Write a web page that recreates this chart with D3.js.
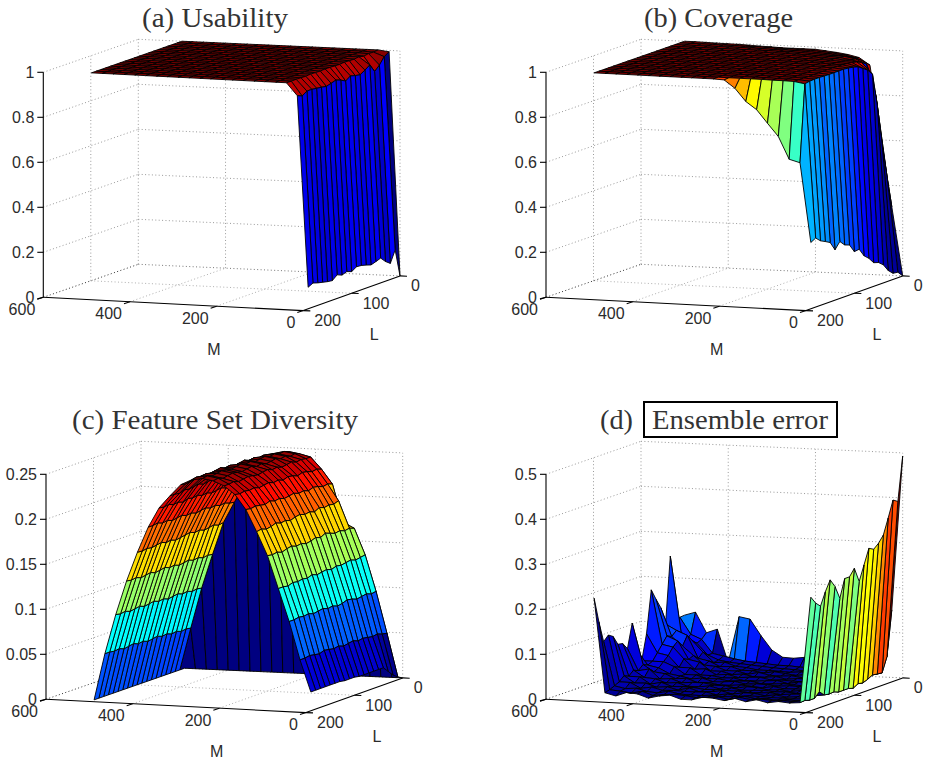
<!DOCTYPE html>
<html><head><meta charset="utf-8">
<script src="https://cdn.jsdelivr.net/npm/d3@7"></script>
<style>html,body{margin:0;background:#fff}svg{display:block}</style></head>
<body><svg id="c" width="927" height="759"></svg>
<script>
const M=[0,25,50,75,100,125,150,175,200,225,250,275,300,325,350,375,400,425,450,475,500];
const L=[0,10,20,30,40,50,60,70,80,90,100,110,120,130,140,150,160,170,180,190];
const mTicks=[600,400,200,0], lTicks=[200,100,0];
const usabilityTicks=[0,0.2,0.4,0.6,0.8,1], coverageTicks=[0,0.2,0.4,0.6,0.8,1];
const diversityTicks=[0,0.05,0.1,0.15,0.2,0.25], errorTicks=[0,0.1,0.2,0.3,0.4,0.5];
// every table: one row per M, one value per L
const one=[1,1,1,1,1,1,1,1,1,1,1,1,1,1,1,1,1,1,1,1];
const usability=[
[0,.123,.071,.087,.11,.102,.095,.102,.108,.11,.096,.104,.096,.105,.087,.09,.095,.10,.107,.096],
[.994,.98,.95,.929,.966,.951,.938,.942,.948,.933,.945,.953,.946,.94,.944,.947,.95,.95,.936,.945],
[1,.998,.999,.995,1,.997,.998,.999,.997,.998,.999,1,.998,.999,1,.998,.999,1,.999,1],
one,one,one,one,one,one,one,one,one,one,one,one,one,one,one,one,one,one];
const coverage=[
[0,.024,.027,.047,.08,.098,.105,.132,.151,.188,.185,.222,.23,.253,.224,.264,.276,.287,.307,.295],
[.305,.45,.6,.78,.925,.951,.966,.981,.987,.991,.993,.993,.993,.993,.994,.995,.995,.994,.99,.647],
[.6,.8,.9,.96,.975,.985,.99,.993,.995,.996,.997,.997,.997,.997,.997,.997,.998,.998,.998,.66],
[.93,.95,.97,.98,.985,.99,.993,.995,.996,.997,.998,.998,.998,.998,.998,.998,.999,.999,.999,.759],
[.962,.97,.98,.99,.992,.995,.996,.997,.998,.998,.999,.999,.999,.999,.999,.999,.999,.999,.999,.815],
[.973,.98,.985,.99,.995,.996,.997,.998,.999,.999,.999,.999,1,1,1,1,1,1,1,.873],
[.98,.985,.99,.994,.996,.998,.998,.999,.999,1,1,1,1,1,1,1,1,1,1,.907],
[.985,.99,.993,.996,.998,.999,.999,1,1,1,1,1,1,1,1,1,1,1,1,.963],
[.99,.993,.996,.998,.999,1,1,1,1,1,1,1,1,1,1,1,1,1,1,.998],
[.99,.994,.997,.999,1,1,1,1,1,1,1,1,1,1,1,1,1,1,1,1],
[.99,.995,.998,.999,1,1,1,1,1,1,1,1,1,1,1,1,1,1,1,1],
[.99,.996,.998,1,1,1,1,1,1,1,1,1,1,1,1,1,1,1,1,1],
[.992,.997,.999,1,1,1,1,1,1,1,1,1,1,1,1,1,1,1,1,1],
[.993,.998,1,1,1,1,1,1,1,1,1,1,1,1,1,1,1,1,1,1],
[.995,.998,1,1,1,1,1,1,1,1,1,1,1,1,1,1,1,1,1,1],
[.997,.999,1,1,1,1,1,1,1,1,1,1,1,1,1,1,1,1,1,1],
[.997,.999,1,1,1,1,1,1,1,1,1,1,1,1,1,1,1,1,1,1],
[.998,1,1,1,1,1,1,1,1,1,1,1,1,1,1,1,1,1,1,1],
[.999,1,1,1,1,1,1,1,1,1,1,1,1,1,1,1,1,1,1,1],
one,one];
// colour of the strips that fall off the far L edge of the coverage surface (by M row)
const coverageEdgeColour=[.3,.43,.5,.54,.585,.63,.69,.75,.82];
// colours read directly for the few cells near the L=0, low-M corner: [M index, L index, colour]
const coverageCornerColour=[[1,0,.1],[1,1,.1],[1,2,.1],[1,3,.1],[2,0,.92],[2,1,.92],[2,2,.92],[2,3,.92]];
const diversity=[
[0,.003,.007,.013,.019,.019,.019,.019,.019,.019,.020,.020,.020,.021,.021,.021,.021,.021,.021,.021],
[0,.051,.052,.054,.053,.054,.055,.054,.056,.055,.054,.056,.055,.056,.057,.055,.056,.057,.056,.056],
[0,.097,.096,.098,.097,.096,.098,.099,.097,.096,.098,.097,.099,.098,.097,.099,.098,.099,.098,.098],
[0,.137,.136,.135,.137,.136,.135,.136,.134,.136,.135,.134,.136,.134,.135,.134,.135,.133,.134,.134],
[0,.166,.168,.167,.169,.168,.170,.172,.169,.171,.169,.168,.170,.169,.171,.170,.168,.170,.169,.170],
[0,.172,.198,.196,.197,.196,.198,.195,.197,.196,.198,.197,.195,.197,.196,.198,.196,.195,.197,.196],
[0,.214,.216,.215,.217,.218,.216,.218,.217,.219,.218,.217,.219,.218,.220,.218,.219,.220,.219,.220],
[0,.230,.232,.231,.233,.234,.232,.234,.235,.233,.235,.234,.236,.235,.234,.236,.235,.236,.235,.236],
[0,.243,.243,.244,.243,.245,.244,.243,.245,.244,.246,.245,.244,.245,.246,.245,.244,.246,.245,.245],
[0,.246,.248,.247,.249,.248,.250,.249,.248,.250,.249,.251,.250,.249,.250,.251,.250,.249,.251,.250],
[0,.248,.250,.249,.251,.250,.252,.251,.250,.252,.251,.253,.252,.251,.252,.253,.252,.251,.253,.252],
[0,.2455,.247,.248,.249,.248,.250,.249,.251,.250,.249,.251,.250,.252,.251,.250,.251,.250,.251,.250],
[0,.240,.241,.240,.242,.241,.243,.242,.241,.243,.242,.244,.243,.242,.244,.243,.245,.244,.243,.244],
[0,.230,.229,.231,.230,.232,.231,.230,.232,.231,.233,.232,.231,.233,.232,.231,.232,.230,.231,.231],
[0,.212,.213,.212,.214,.213,.215,.214,.213,.215,.214,.216,.215,.216,.214,.216,.215,.217,.216,.217],
[0,.189,.190,.192,.191,.193,.192,.194,.193,.192,.194,.193,.195,.194,.193,.195,.194,.196,.195,.195],
[0,.166,.165,.167,.166,.165,.167,.166,.168,.167,.166,.165,.167,.166,.168,.167,.166,.167,.166,.1665],
[0,.130,.131,.130,.132,.131,.133,.132,.131,.133,.132,.134,.133,.132,.134,.133,.132,.134,.133,.134],
[0,.092,.093,.092,.094,.093,.095,.094,.093,.095,.094,.096,.095,.094,.096,.095,.094,.096,.095,.096],
[0,.047,.048,.047,.049,.048,.050,.049,.051,.050,.049,.051,.050,.052,.051,.050,.052,.051,.052,.052],
[0,0,0,0,0,0,0,0,0,0,0,0,0,0,0,0,0,0,0,0]];
const ensembleError=[
[.493,.396,.403,.367,.333,.3185,.309,.315,.282,.249,.282,.267,.267,.227,.257,.2756,.253,.225,.2356,.2526],
[.15,.05,.018,.019,.021,.015,.011,.013,.0067,.01,.01,.01,.014,.013,.015,.026,.015,.015,.018,.017],
[.03,.018,.012,.014,.011,.013,.009,.012,.01,.012,.009,.013,.011,.014,.012,.01,.013,.012,.014,.015],
[.06,.016,.012,.01,.013,.011,.014,.01,.012,.009,.013,.011,.012,.01,.014,.012,.011,.013,.015,.017],
[.05,.014,.011,.013,.01,.012,.009,.014,.011,.013,.01,.012,.014,.011,.013,.01,.012,.011,.014,.013],
[.06,.016,.014,.012,.011,.013,.01,.012,.014,.011,.013,.012,.01,.013,.011,.014,.012,.013,.016,.0185],
[.07,.018,.014,.016,.012,.01,.013,.011,.015,.012,.014,.011,.013,.012,.014,.011,.013,.012,.014,.013],
[.05,.016,.015,.013,.015,.012,.014,.012,.01,.014,.012,.015,.011,.014,.012,.015,.013,.016,.017,.019],
[.035,.018,.014,.016,.012,.015,.011,.013,.016,.012,.014,.011,.015,.013,.012,.015,.011,.014,.012,.013],
[.036,.018,.016,.014,.015,.013,.016,.012,.014,.011,.015,.013,.016,.012,.014,.011,.015,.013,.016,.017],
[.033,.02,.017,.015,.018,.014,.013,.017,.012,.016,.013,.015,.012,.016,.014,.017,.012,.015,.014,.018],
[.034,.02,.018,.016,.014,.019,.013,.016,.012,.015,.018,.013,.016,.012,.015,.014,.017,.013,.012,.011],
[.049,.022,.02,.016,.018,.014,.018,.014,.017,.014,.016,.013,.016,.018,.014,.012,.016,.013,.015,.011],
[.08,.024,.022,.02,.018,.02,.016,.02,.016,.018,.015,.017,.02,.015,.017,.02,.016,.014,.017,.019],
[.1156,.026,.024,.022,.025,.02,.022,.018,.02,.017,.022,.016,.02,.015,.018,.014,.017,.019,.015,.016],
[.12,.03,.026,.03,.024,.028,.022,.03,.02,.024,.019,.024,.018,.022,.017,.02,.016,.014,.012,.01],
[.017,.035,.03,.028,.035,.03,.04,.028,.035,.024,.024,.022,.026,.02,.025,.018,.022,.016,.02,.018],
[.09,.04,.04,.05,.04,.05,.045,.05,.035,.04,.028,.032,.024,.028,.02,.026,.018,.022,.015,.02],
[.081,.07,.065,.075,.09,.07,.085,.075,.06,.05,.04,.035,.045,.03,.035,.025,.03,.02,.018,.011],
[.1257,.08,.07,.09,.1,.09,.095,.08,.065,.05,.045,.05,.04,.045,.035,.04,.03,.025,.02,.017],
[.118,.117,.105,.26,.113,.153,.1755,.2,.106,.05,.076,.141,.088,.103,.105,.126,.133,.122,.17,.226]];

const jet=d3.scaleLinear().domain([0,.125,.375,.625,.875,1])
  .range(["#000080","#0000ff","#00ffff","#ffff00","#ff0000","#800000"]).interpolate(d3.interpolateRgb).clamp(true);
const svg=d3.select("#c");
const sans="'Liberation Sans',Arial,sans-serif", serif="'Liberation Serif',serif";
const txt="#2b2b2b";

function panel(o){
  const g=svg.append("g").attr("transform",`translate(${o.x},${o.y})`);
  const zTop=d3.max(o.zTicks);
  const mx=d3.scaleLinear([0,600],[260,0]), my=d3.scaleLinear([0,600],[13.3,0]);
  const lx=d3.scaleLinear([0,200],[96.7,0]), ly=d3.scaleLinear([0,200],[-34.7,0]);
  const zy=d3.scaleLinear([0,zTop],[0,-225]);
  // slight perspective: the far corner of the box sits 1.7px left of and below the parallel projection
  const far=(m,l)=>(m/600)*(1-l/200)*1.7;
  const P=(m,l,z)=>[mx(m)+lx(l)-far(m,l),my(m)+ly(l)+zy(z)+far(m,l)];
  const seg=(a,b,col)=>g.append("line").attr("x1",a[0]).attr("y1",a[1]).attr("x2",b[0]).attr("y2",b[1])
     .attr("stroke",col).attr("stroke-width",1).attr("stroke-dasharray","1 2.4");
  // dotted box grid
  o.zTicks.forEach(z=>{
    const dark=z===0;
    seg(P(600,200,z),P(600,0,z),dark?"#333":"#9a9a9a");
    seg(P(600,0,z),P(0,0,z),dark?"#777":"#9a9a9a");
  });
  [[600,100],[600,0],[400,0],[200,0],[0,0]].forEach(d=>seg(P(d[0],d[1],0),P(d[0],d[1],zTop),"#9a9a9a"));
  [400,200].forEach(m=>seg(P(m,200,0),P(m,0,0),"#b0b0b0"));
  seg(P(600,100,0),P(0,100,0),"#b0b0b0");
  // axes
  const solid=(a,b,w)=>g.append("line").attr("x1",a[0]).attr("y1",a[1]).attr("x2",b[0]).attr("y2",b[1]).attr("stroke","#000").attr("stroke-width",w||1.1);
  solid(P(600,200,0),P(600,200,zTop));
  solid(P(600,200,0),P(0,200,0));
  solid(P(0,200,0),P(0,0,0));
  o.zTicks.forEach((z,i)=>{
    const p=P(600,200,z);
    solid(p,[p[0]-6,p[1]+(z===0?1.6:0)]);
    g.append("text").attr("x",p[0]-9).attr("y",p[1]+5.6).attr("text-anchor","end").text(o.zLabels[i]);
  });
  mTicks.forEach(m=>{
    const p=P(m,200,0);
    solid(p,[p[0]-6,p[1]+2]);
    g.append("text").attr("x",p[0]-8).attr("y",p[1]+17.5).attr("text-anchor","end").text(m);
  });
  lTicks.forEach(l=>{
    const p=P(0,l,0);
    solid(p,[p[0]+7,p[1]+.3]);
    g.append("text").attr("x",p[0]+11).attr("y",p[1]+15.5).text(l);
  });
  g.selectAll("text").attr("font-family",sans).attr("font-size",16).attr("fill",txt);
  const lab=(t,x,y)=>g.append("text").attr("x",x).attr("y",y).attr("text-anchor","middle").attr("font-family",sans).attr("font-size",16).attr("fill",txt).text(t);
  lab("M",170.7,58);lab("L",331,43);
  // surface, painted from far to near
  const zs=o.z, [lo,hi]=d3.extent(zs.flat());
  const col=d3.scaleLinear([lo,hi],[0,1]);
  const quads=[];
  for(let i=M.length-2;i>=0;i--)for(let j=0;j<L.length-1;j++){
    let c=col(zs[i][j]);
    if(o.edge&&j===L.length-2&&i<o.edge.length)c=o.edge[i];
    (o.corner||[]).forEach(k=>{if(k[0]===i&&k[1]===j)c=k[2];});
    quads.push({pts:[[i,j],[i+1,j],[i+1,j+1],[i,j+1]],c});
  }
  g.append("g").selectAll("polygon").data(quads).join("polygon")
    .attr("points",q=>q.pts.map(([i,j])=>P(M[i],L[j],zs[i][j]).map(v=>v.toFixed(2)).join(",")).join(" "))
    .attr("fill",q=>jet(q.c)).attr("stroke","#000").attr("stroke-width",.9).attr("stroke-linejoin","round");
}
panel({x:43.3,y:297.3,z:usability,zTicks:usabilityTicks,zLabels:["0","0.2","0.4","0.6","0.8","1"]});
panel({x:546,y:297.3,z:coverage,zTicks:coverageTicks,zLabels:["0","0.2","0.4","0.6","0.8","1"],edge:coverageEdgeColour,corner:coverageCornerColour});
panel({x:46,y:699.3,z:diversity,zTicks:diversityTicks,zLabels:["0","0.05","0.1","0.15","0.2","0.25"]});
panel({x:546,y:699.3,z:ensembleError,zTicks:errorTicks,zLabels:["0","0.1","0.2","0.3","0.4","0.5"]});

const title=(t,x,y,w)=>svg.append("text").attr("x",x).attr("y",y).attr("font-family",serif).attr("font-size",26.5)
  .attr("fill","#333").attr("textLength",w).attr("lengthAdjust","spacingAndGlyphs").text(t);
title("(a) Usability",142,27,146);
title("(b) Coverage",644,27,149);
title("(c) Feature Set Diversity",72,429,286);
title("(d)",600,429,33);
svg.append("rect").attr("x",644).attr("y",402).attr("width",193).attr("height",35).attr("fill","#fff").attr("stroke","#000").attr("stroke-width",2);
title("Ensemble error",652,429,176);
</script></body></html>
